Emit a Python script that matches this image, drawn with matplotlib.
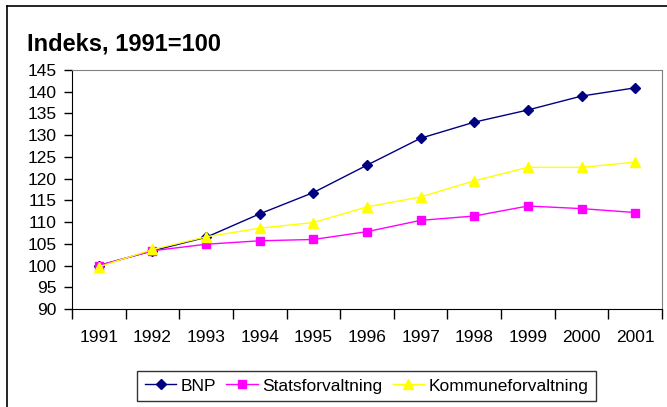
import matplotlib
matplotlib.use("Agg")
import matplotlib.pyplot as plt
from matplotlib.lines import Line2D
import numpy as np

plt.rcParams['font.family'] = ['Liberation Sans', 'DejaVu Sans']

years = ['1991', '1992', '1993', '1994', '1995', '1996', '1997', '1998', '1999', '2000', '2001']
bnp = [100, 103.4, 106.5, 111.9, 116.8, 123.1, 129.3, 133.0, 135.8, 139.0, 140.9]
stats = [100, 103.4, 104.9, 105.7, 106.0, 107.8, 110.4, 111.4, 113.7, 113.1, 112.2]
kommune = [99.7, 103.7, 106.6, 108.6, 109.9, 113.5, 115.8, 119.5, 122.6, 122.6, 123.8]

W, H = 667, 407
fig = plt.figure(figsize=(W / 100, H / 100), dpi=100)
ax = fig.add_axes([72 / W, 1 - 309 / H, (662 - 72) / W, (309 - 70) / H])

x = np.arange(len(years))
ax.plot(x, bnp, color='#000080', lw=1, marker='D', ms=5, label='BNP', zorder=3)
ax.plot(x, stats, color='#FF00FF', lw=1, marker='s', ms=6, label='Statsforvaltning', zorder=4)
ax.plot(x, kommune, color='#FFFF00', lw=1, marker='^', ms=7, label='Kommuneforvaltning', zorder=5)

ax.set_xlim(-0.5, len(years) - 0.5)
ax.set_ylim(90, 145)
ax.set_yticks(np.arange(90, 146, 5))
ax.set_xticks(x)
ax.set_xticklabels(years)
ax.set_xticks(np.arange(-0.5, len(years), 1), minor=True)
ax.tick_params(axis='x', which='major', length=0, pad=15, labelsize=12.5)
ax.tick_params(axis='x', which='minor', length=7, width=1, direction='out', color='black')
ax.tick_params(axis='y', length=6, width=1, direction='out', pad=5, labelsize=12.5, color='black')

for s in ['top', 'right']:
    ax.spines[s].set_color('#808080')
for s in ['left', 'bottom']:
    ax.spines[s].set_color('black')

fig.text(27 / W, 1 - 50 / H, 'Indeks, 1991=100', fontsize=17, fontweight='bold', va='baseline', ha='left')

# outer chart border (left and top edges visible)
fig.add_artist(Line2D([7 / W, 7 / W], [0, 1 - 6 / H], color='black', lw=1.2, transform=fig.transFigure))
fig.add_artist(Line2D([7 / W, 1], [1 - 6 / H, 1 - 6 / H], color='black', lw=1.2, transform=fig.transFigure))

leg = fig.legend(loc='center', bbox_to_anchor=(366.5 / W, 1 - 386 / H), ncol=3, fontsize=12.5,
                 frameon=True, fancybox=False, edgecolor='black', handlelength=1.8,
                 columnspacing=0.6, handletextpad=0.25, borderpad=0.45, numpoints=1)
leg.get_frame().set_linewidth(1)

fig.savefig('out.png', dpi=100)
